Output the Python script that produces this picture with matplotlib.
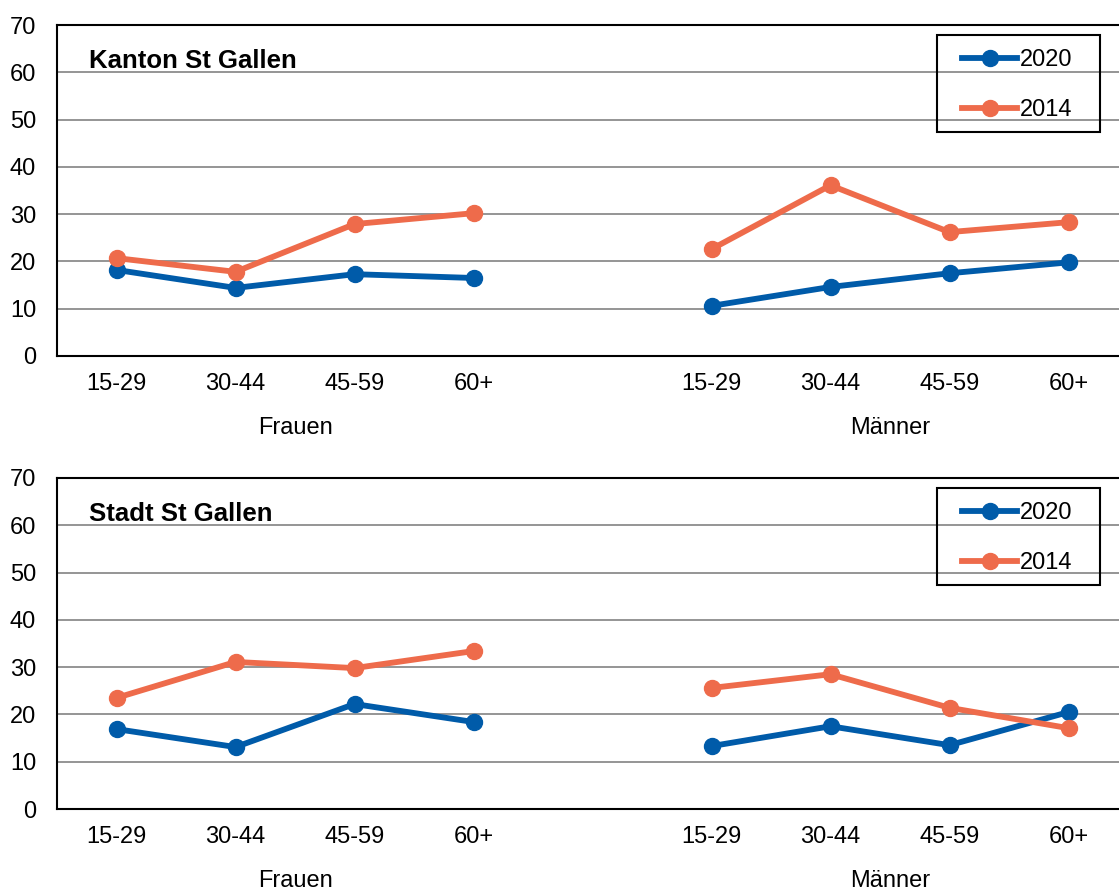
import matplotlib
matplotlib.use("Agg")
import matplotlib.pyplot as plt
from matplotlib.patches import Rectangle
from matplotlib.transforms import blended_transform_factory

# categories and values
age_groups = ["15-29", "30-44", "45-59", "60+"]
groups = ["Frauen", "Männer"]

kanton_2020 = [18.2, 14.4, 17.3, 16.5, 10.6, 14.6, 17.5, 19.8]
kanton_2014 = [20.7, 17.8, 27.9, 30.2, 22.6, 36.1, 26.2, 28.3]
stadt_2020 = [16.9, 13.1, 22.2, 18.4, 13.3, 17.5, 13.5, 20.5]
stadt_2014 = [23.5, 31.1, 29.8, 33.4, 25.6, 28.5, 21.4, 17.1]

panels = [
    ("Kanton St Gallen", kanton_2020, kanton_2014),
    ("Stadt St Gallen", stadt_2020, stadt_2014),
]

BLUE = "#005BA9"
ORANGE = "#EE6B4B"

plt.rcParams["font.family"] = ["Liberation Sans", "DejaVu Sans"]
plt.rcParams["font.size"] = 17

W, H = 1119, 890
fig = plt.figure(figsize=(W / 100, H / 100), dpi=100)

# x positions: two blocks of four with a one-slot gap
xpos = [0, 1, 2, 3, 5, 6, 7, 8]
xlabels = age_groups + age_groups

# axes boxes in pixels: (top, bottom)
boxes = [(25, 356), (478, 809)]
left_px, right_px = 57, 1128

for (title, v2020, v2014), (top, bottom) in zip(panels, boxes):
    ax = fig.add_axes([left_px / W, 1 - bottom / H,
                       (right_px - left_px) / W, (bottom - top) / H])
    style = dict(lw=4.2, marker="o", ms=11.5)
    ax.plot(xpos[:4], v2020[:4], color=BLUE, label="2020", **style)
    ax.plot(xpos[4:], v2020[4:], color=BLUE, **style)
    ax.plot(xpos[:4], v2014[:4], color=ORANGE, label="2014", **style)
    ax.plot(xpos[4:], v2014[4:], color=ORANGE, **style)

    ax.set_xlim(-0.5, 8.5)
    ax.set_ylim(0, 70)
    ax.set_yticks(range(0, 71, 10))
    ax.set_xticks(xpos)
    ax.set_xticklabels(xlabels)
    ax.tick_params(axis="both", length=0, labelsize=17)
    ax.tick_params(axis="x", pad=12)
    ax.tick_params(axis="y", pad=15)
    ax.grid(axis="y", color="#8c8c8c", lw=1.3)
    ax.set_axisbelow(True)
    for s in ax.spines.values():
        s.set_color("black")
        s.set_linewidth(1.5)
    ax.spines["right"].set_visible(False)

    trans = blended_transform_factory(ax.transData, ax.transAxes)
    for g, cx in zip(groups, [1.5, 6.5]):
        ax.text(cx, -72 / (bottom - top), g, transform=trans,
                ha="center", va="center", fontsize=17)

    ax.text(89 / W, 1 - (top + 36) / H, title, transform=fig.transFigure,
            fontsize=18.5, fontweight="bold", va="center", ha="left")

    # legend without frame, box drawn separately
    ax.legend(loc="center left",
              bbox_to_anchor=(962 / W, 1 - (top + 60) / H),
              bbox_transform=fig.transFigure, borderaxespad=0, borderpad=0,
              frameon=False, handlelength=2.35, handletextpad=0.12,
              labelspacing=1.2, fontsize=17)
    fig.patches.append(Rectangle((937 / W, 1 - (top + 107) / H),
                                 163 / W, 97 / H, transform=fig.transFigure,
                                 fill=False, edgecolor="black", lw=1.5, zorder=5))

fig.savefig("out.png", dpi=100)
